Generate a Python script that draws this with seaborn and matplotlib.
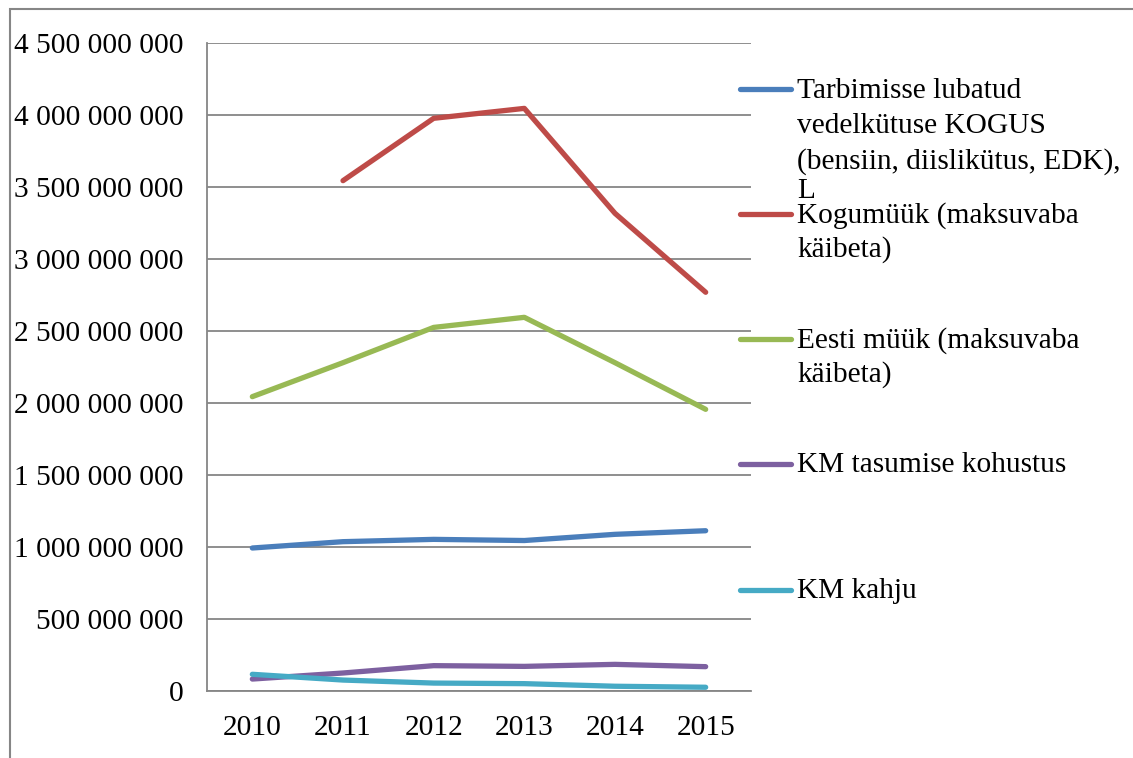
import numpy as np
import pandas as pd
import matplotlib
matplotlib.use("Agg")
import matplotlib.pyplot as plt
import seaborn as sns
from matplotlib.ticker import FuncFormatter, FixedLocator
from matplotlib.lines import Line2D
from matplotlib.patches import Rectangle

# Data
years = [2010, 2011, 2012, 2013, 2014, 2015]
kogus = [0.993e9, 1.037e9, 1.053e9, 1.045e9, 1.088e9, 1.113e9]
kogumuuk = [np.nan, 3.544e9, 3.977e9, 4.046e9, 3.317e9, 2.769e9]
eesti_muuk = [2.044e9, 2.280e9, 2.525e9, 2.595e9, 2.280e9, 1.956e9]
km_kohustus = [0.083e9, 0.125e9, 0.176e9, 0.171e9, 0.185e9, 0.169e9]
km_kahju = [0.116e9, 0.076e9, 0.055e9, 0.051e9, 0.033e9, 0.026e9]

series_names = [
    "Tarbimisse lubatud\nvedelkütuse KOGUS\n(bensiin, diislikütus, EDK),\nL",
    "Kogumüük (maksuvaba\nkäibeta)",
    "Eesti müük (maksuvaba\nkäibeta)",
    "KM tasumise kohustus",
    "KM kahju",
]
series_values = [kogus, kogumuuk, eesti_muuk, km_kohustus, km_kahju]
colors = ["#4A7EBB", "#BE4B48", "#98B954", "#7D60A0", "#46AAC5"]

df = pd.concat(
    [pd.DataFrame({"Year": years, "Value": vals, "Series": name})
     for name, vals in zip(series_names, series_values)],
    ignore_index=True,
)

sns.set_style("white")
plt.rcParams["font.family"] = ["Liberation Serif", "DejaVu Serif"]
plt.rcParams["text.color"] = "black"
FS = 21.2
W, H = 1133, 758

fig = plt.figure(figsize=(W / 100, H / 100), dpi=100)
ax = fig.add_axes([207 / W, 1 - 691 / H, 544 / W, 648 / H])

sns.lineplot(data=df, x="Year", y="Value", hue="Series", palette=colors,
             linewidth=3.8, ax=ax, legend=False, sort=False)
for line in ax.get_lines():
    line.set_solid_capstyle("round")
    line.set_solid_joinstyle("round")

ax.set_xlim(2009.5, 2015.5)
ax.set_ylim(0, 4.5e9)
ax.set_xticks(years)
ax.set_xticklabels([str(y) for y in years])
ax.xaxis.set_minor_locator(FixedLocator(np.arange(2009.5, 2016, 1)))
ax.tick_params(axis="x", which="major", length=0, pad=17, labelsize=FS,
               labelcolor="black")
ax.tick_params(axis="x", which="minor", length=8, width=1.2, color="#868686")
ax.set_yticks(np.arange(0, 4.5e9 + 1, 5e8))
ax.yaxis.set_major_formatter(FuncFormatter(lambda v, p: f"{int(v):,}".replace(",", " ")))
ax.tick_params(axis="y", length=8, width=1.2, color="#868686", pad=9, labelsize=FS,
               labelcolor="black")
ax.grid(axis="y", color="#868686", linewidth=1.3)
ax.set_axisbelow(True)
ax.set_xlabel("")
ax.set_ylabel("")
for side in ["top", "right"]:
    ax.spines[side].set_visible(False)
for side in ["left", "bottom"]:
    ax.spines[side].set_color("#868686")
    ax.spines[side].set_linewidth(1.3)

# manual legend on the right (handle y in pixels, line baselines offsets)
entry_y = [89, 214, 339, 464, 590]
line_offsets = [[0, 35.5, 71, 100], [0, 34.5], [0, 34.5], [0], [0]]
for name, col, yy, offs in zip(series_names, colors, entry_y, line_offsets):
    fy = 1 - yy / H
    fig.add_artist(Line2D([740 / W, 791 / W], [fy, fy], color=col,
                          linewidth=3.8, solid_capstyle="round"))
    for txt, off in zip(name.split("\n"), offs):
        fig.text(797 / W, 1 - (yy + 8.5 + off) / H, txt, fontsize=FS,
                 va="baseline", ha="left", color="black")

# outer chart border
fig.add_artist(Rectangle((10 / W, -0.1), 1.2, 1.1 - 9 / H,
                         transform=fig.transFigure, fill=False,
                         edgecolor="#868686", linewidth=1.5))

fig.savefig("out.png", dpi=100, facecolor="white")
